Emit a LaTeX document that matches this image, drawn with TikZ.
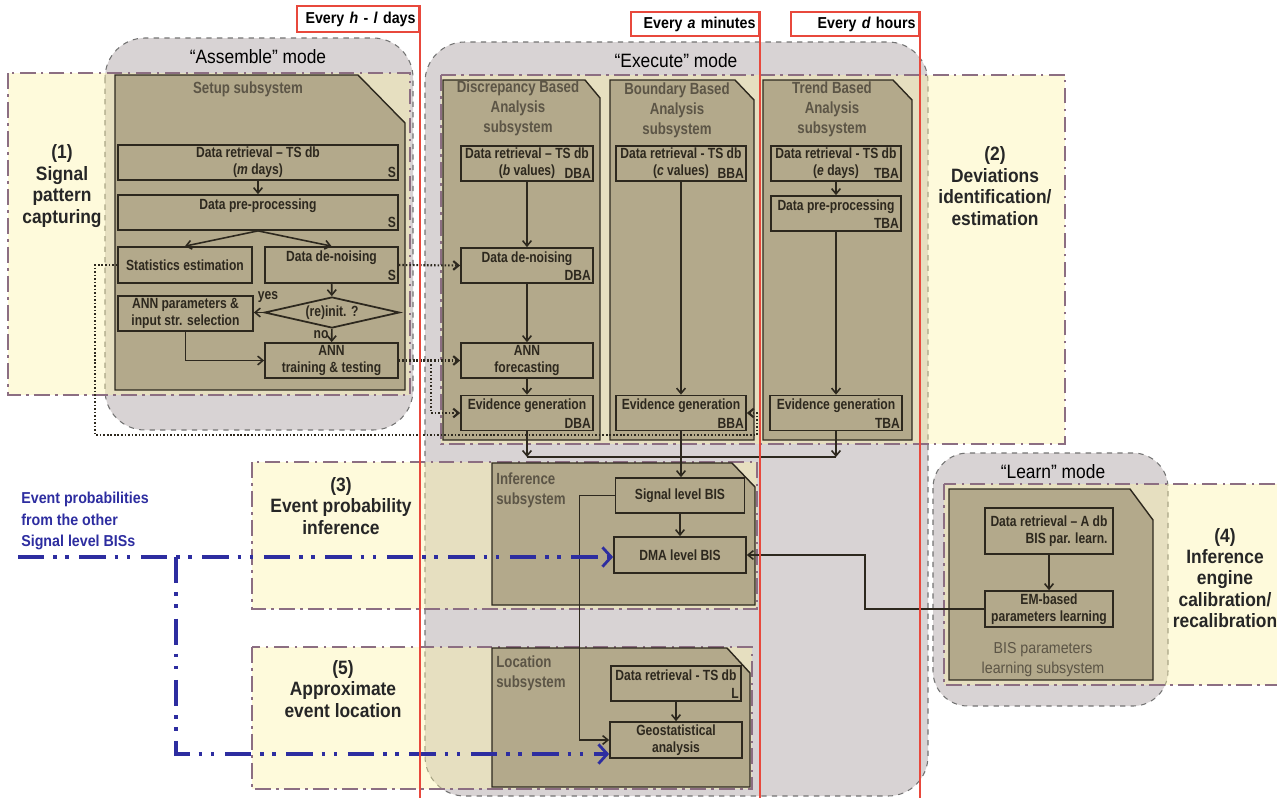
\documentclass[tikz,border=0pt]{standalone}
\usepackage{fontspec}
\setmainfont{Liberation Sans}[FakeStretch=0.9]
\newfontfamily\narrowsans{Liberation Sans}[FakeStretch=0.82, Ligatures=TeX]
\usetikzlibrary{shapes.geometric, arrows.meta, calc}

\definecolor{modegray}{RGB}{216,211,212}
\definecolor{zoneyel}{RGB}{252,242,164}
\definecolor{zoneline}{RGB}{140,110,130}
\definecolor{tanbox}{RGB}{179,169,139}
\definecolor{boxline}{RGB}{45,40,30}
\definecolor{subgray}{RGB}{92,85,70}
\definecolor{clockred}{RGB}{232,72,60}
\definecolor{evblue}{RGB}{45,45,160}

\tikzset{
  modebox/.style={draw=black!55, dashed, fill=modegray, rounded corners=0.8cm, line width=0.6pt},
  zone/.style={draw=zoneline, fill=zoneyel, fill opacity=0.4, line width=1.2pt, dash pattern=on 9pt off 3pt on 1.5pt off 3pt},
  subsys/.style={draw=boxline, fill=tanbox, line width=0.8pt},
  subhead/.style={text=subgray, font=\narrowsans\fontsize{9.2}{11.4}\selectfont\bfseries, align=center, inner sep=0pt},
  proc/.style={draw=boxline, fill=tanbox, text=boxline, line width=1pt, align=center, inner sep=1pt, minimum height=0.7cm, font=\narrowsans\fontsize{8.4}{9.6}\selectfont\bfseries},
  boxtag/.style={label={[anchor=south east, inner sep=1.5pt, text=boxline, font=\narrowsans\fontsize{8.4}{9.6}\selectfont\bfseries]south east:#1}},
  decide/.style={proc, diamond, aspect=4.3, minimum width=2.7cm, minimum height=0.62cm, inner sep=0.5pt},
  arr/.style={draw=boxline, line width=0.9pt, -{Straight Barb[length=3pt, width=5pt]}},
  dotarr/.style={arr, line width=1.2pt, dash pattern=on 0.9pt off 1.1pt},
  bluearr/.style={draw=evblue, line width=2pt, dash pattern=on 15pt off 5pt on 2pt off 5pt on 2pt off 6pt, -{Straight Barb[length=5pt, width=11pt, line width=1.6pt]}},
  zonelabel/.style={text=black!85, font=\fontsize{11}{12.2}\selectfont\bfseries, align=center, inner sep=0pt},
  modehead/.style={font=\fontsize{11}{13}\selectfont, inner sep=0pt},
  clock/.style={draw=clockred, line width=1pt, font=\fontsize{9}{10}\selectfont\bfseries, align=right, inner xsep=2pt, inner ysep=0pt},
}

\begin{document}
\begin{tikzpicture}[x=0.02cm, y=-0.02cm]
\useasboundingbox (0,0) rectangle (1277,798);
\coordinate (bot) at (0,798);

% modes
\draw[modebox] (105,38) rectangle (413,430);
\draw[modebox] (425,42) rectangle (928,796);
\draw[modebox, rounded corners=0.7cm] (933,453) rectangle (1168,706);
\node[modehead] (tass) at (258,57) {“Assemble” mode};
\node[modehead] (texe) at (676,61) {“Execute” mode};
\node[modehead] (tlrn) at (1053,472) {“Learn” mode};

% zones
\draw[zone] (8,73) rectangle (410,395);
\draw[zone] (441,75) rectangle (1065,444);
\draw[zone] (252,462) rectangle (757,609);
\draw[zone] (252,647) rectangle (752,789);
\draw[zone] (944,484) rectangle (1300,685);
\node[zonelabel] (z1) at (62,186) {(1)\\Signal\\pattern\\capturing};
\node[zonelabel] (z2) at (995,186) {(2)\\Deviations\\identification/\\estimation};
\node[zonelabel] (z3) at (341,506) {(3)\\Event probability\\inference};
\node[zonelabel] (z5) at (343,689) {(5)\\Approximate\\event location};
\node[zonelabel] (z4) at (1225,578) {(4)\\Inference\\engine\\calibration/\\recalibration};

% subsystems
\draw[subsys] (115,75) -- (358,75) -- (405,123) -- (405,390) -- (115,390) -- cycle;
\draw[subsys] (443,80) -- (585,80) -- (600,98) -- (600,440) -- (443,440) -- cycle;
\draw[subsys] (610,80) -- (735,80) -- (754,100) -- (754,440) -- (610,440) -- cycle;
\draw[subsys] (763,80) -- (893,80) -- (912,100) -- (912,440) -- (763,440) -- cycle;
\draw[subsys] (492,463) -- (732,463) -- (755,487) -- (755,605) -- (492,605) -- cycle;
\draw[subsys] (492,648) -- (727,648) -- (750,673) -- (750,787) -- (492,787) -- cycle;
\draw[subsys] (949,489) -- (1130,489) -- (1153,520) -- (1153,680) -- (949,680) -- cycle;
\node[subhead] (tsetup) at (248,89) {Setup subsystem};
\node[subhead] (tdba) at (518,108) {Discrepancy Based\\Analysis\\subsystem};
\node[subhead] (tbba) at (677,110) {Boundary Based\\Analysis\\subsystem};
\node[subhead] (ttba) at (832,109) {Trend Based\\Analysis\\subsystem};
\node[subhead, align=left, anchor=west] (tinf) at (496,490) {Inference\\subsystem};
\node[subhead, align=left, anchor=west] (tloc) at (496,673) {Location\\subsystem};
\node[subhead, font=\fontsize{9}{11.4}\selectfont] (tbis) at (1043,660) {BIS parameters\\learning subsystem};

% setup
\node[proc, minimum width=5.6cm, boxtag=S] (sr1) at (258,162.5) {Data retrieval -- TS db\\(\textit{m} days)};
\node[proc, minimum width=5.6cm, boxtag=S] (sr2) at (258,212.5) {Data pre-processing\\~};
\node[proc, minimum width=2.68cm, minimum height=0.72cm] (sr3) at (185,265) {Statistics estimation};
\node[proc, minimum width=2.66cm, minimum height=0.72cm, boxtag=S] (sr4) at (331.5,265) {Data de-noising\\~};
\node[decide] (dia) at (332,312.5) {(re)init. ?};
\node[proc, minimum width=2.7cm] (sr5) at (185.5,313.5) {ANN parameters \&\\input str. selection};
\node[proc, minimum width=2.66cm] (sr6) at (331.5,360.5) {ANN\\training \& testing};
\node[font=\narrowsans\fontsize{8.4}{9}\selectfont\bfseries, text=boxline] (lyes) at (268,297) {yes};
\node[font=\narrowsans\fontsize{8.4}{9}\selectfont\bfseries, text=boxline] (lno) at (321,335) {no};

% discrepancy / boundary / trend
\node[proc, minimum width=2.64cm, boxtag=DBA] (d1) at (527,163.5) {Data retrieval -- TS db\\(\textit{b} values)};
\node[proc, minimum width=2.64cm, boxtag=DBA] (d2) at (527,265.5) {Data de-noising\\~};
\node[proc, minimum width=2.64cm] (d3) at (527,360.5) {ANN\\forecasting};
\node[proc, minimum width=2.64cm, boxtag=DBA] (d4) at (527,413) {Evidence generation\\~};
\node[proc, minimum width=2.6cm, boxtag=BBA] (b1) at (681,163.5) {Data retrieval - TS db\\(\textit{c} values)};
\node[proc, minimum width=2.6cm, boxtag=BBA] (b2) at (681,413) {Evidence generation\\~};
\node[proc, minimum width=2.6cm, boxtag=TBA] (t1) at (836,163.5) {Data retrieval - TS db\\(\textit{e} days)};
\node[proc, minimum width=2.6cm, boxtag=TBA] (t2) at (836,213.5) {Data pre-processing\\~};
\node[proc, minimum width=2.64cm, boxtag=TBA] (t3) at (836,413) {Evidence generation\\~};

% inference, location, learning
\node[proc, minimum width=2.58cm] (i1) at (680,495.5) {Signal level BIS};
\node[proc, minimum width=2.64cm, minimum height=0.72cm] (i2) at (680,555) {DMA level BIS};
\node[proc, minimum width=2.6cm, boxtag=L] (l1) at (676,683.5) {Data retrieval - TS db\\~};
\node[proc, minimum width=2.64cm, minimum height=0.72cm] (l2) at (676,740) {Geostatistical\\analysis};
\node[proc, minimum width=2.56cm, minimum height=0.92cm, align=right] (e1) at (1049,531) {Data retrieval -- A db\\BIS par. learn.};
\node[proc, minimum width=2.56cm, minimum height=0.72cm] (e2) at (1049,609) {EM-based\\parameters learning};

% setup flow
\draw[arr] (sr1) -- (sr2);
\draw[arr] (sr2.south) -- (sr3.north);
\draw[arr] (sr2.south) -- (sr4.north);
\draw[arr] (sr4) -- (dia);
\draw[arr] (dia.west) -- (dia.west -| sr5.east);
\draw[arr] (dia) -- (sr6);
\draw[arr] (sr5.south) |- (sr6.west);

% analysis flows
\draw[arr] (d1) -- (d2);
\draw[arr] (d2) -- (d3);
\draw[arr] (d3) -- (d4);
\draw[arr] (b1) -- (b2);
\draw[arr] (t1) -- (t2);
\draw[arr] (t2) -- (t3);
\coordinate (mrg) at (681,457);
\draw[boxline, line width=0.9pt] (d4.south |- mrg) -- (t3.south |- mrg);
\draw[arr] (d4.south) -- (d4.south |- mrg);
\draw[arr] (t3.south) -- (t3.south |- mrg);
\draw[arr] (b2.south) -- (b2.south |- i1.north);
\draw[arr] (i1) -- (i2);
\draw[arr] (i1.west) -- ++(-35,0) |- (l2.west);
\draw[arr] (l1) -- (l2);
\draw[arr] (e1) -- (e2);
\draw[arr] (e2.west) -- ++(-119,0) |- (i2.east);

% dotted hand-over
\draw[dotarr] (sr4.east) -- (d2.west);
\draw[dotarr] (sr6.east) -- (d3.west);
\draw[dotarr] ($(sr6.east)+(32,0)$) |- (d4.west);
\coordinate (loop) at (757,435);
\draw[dotarr] (sr3.west) -- ++(-22,0) |- (loop) |- (b2.east);

% other BISs
\node[font=\fontsize{9}{12}\selectfont\bfseries, text=evblue, align=left, anchor=west, inner sep=0pt] (evtxt) at (21,521) {Event probabilities\\from the other\\Signal level BISs};
\coordinate (evsrc) at (18,557);
\coordinate (evfork) at (176,557);
\coordinate (evlow) at (176,754);
\draw[bluearr] (evsrc) -- (evsrc -| i2.west);
\draw[bluearr] (evfork) -- (evlow) -- (evlow -| l2.west);

% time scales
\node[clock, text width=2.3cm, minimum height=0.52cm] (hl) at (358,19) {Every \textit{h} - \textit{l} days};
\node[clock, text width=2.42cm, minimum height=0.48cm] (am) at (695,24) {Every \textit{a} minutes};
\node[clock, text width=2.42cm, minimum height=0.48cm] (dh) at (855,24) {Every \textit{d} hours};
\draw[clockred, line width=1pt] (hl.north east) -- (hl.north east |- bot);
\draw[clockred, line width=1pt] (am.north east) -- (am.north east |- bot);
\draw[clockred, line width=1pt] (dh.north east) -- (dh.north east |- bot);
\end{tikzpicture}
\end{document}
